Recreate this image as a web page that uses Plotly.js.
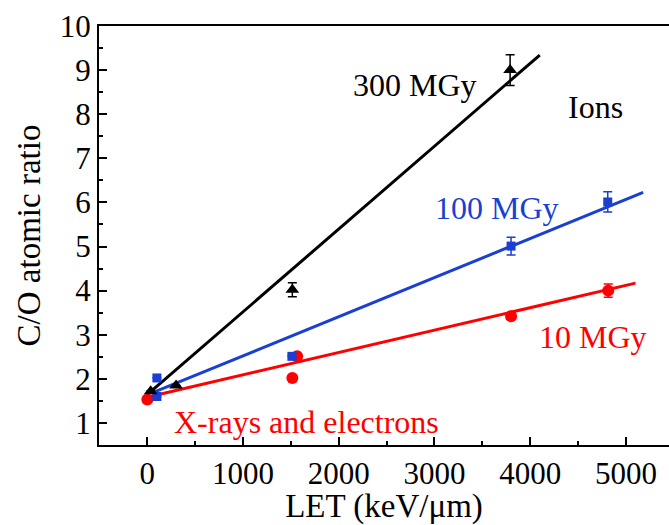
<!DOCTYPE html>
<html>
<head>
<meta charset="utf-8">
<script src="https://cdn.plot.ly/plotly-3.0.1.min.js"></script>
<style>html,body{margin:0;padding:0;background:#fff}#chart{width:669px;height:525px}</style>
</head>
<body>
<div id="chart"></div>
<script>
// Data
var let300 = [35, 300, 1515, 3790];
var co300 = [1.72, 1.85, 4.02, 9.0];
var err300 = [0, 0, 0.16, 0.35];

var let100 = [100, 100, 1510, 3800, 4810];
var co100 = [2.02, 1.6, 2.51, 5.01, 6.01];
var err100 = [0, 0, 0, 0.2, 0.23];

var let10 = [0, 1515, 1565, 3800, 4815];
var co10 = [1.53, 2.02, 2.51, 3.42, 4.0];
var err10 = [0, 0, 0, 0.07, 0.15];

// Linear fit lines (endpoints)
var fitX300 = [20, 4100];
var fitY300 = [1.68, 9.34];
var fitX100 = [50, 5180];
var fitY100 = [1.68, 6.23];
var fitX10 = [30, 5100];
var fitY10 = [1.6, 4.17];

var labels = ["300 MGy", "Ions", "100 MGy", "10 MGy", "X-rays and electrons"];
var xTicks = [0, 1000, 2000, 3000, 4000, 5000];
var yTicks = [1, 2, 3, 4, 5, 6, 7, 8, 9, 10];

var BLACK = '#000000', BLUE = '#1a3fd2', RED = '#ff0000';
var FONT = 'Liberation Serif';

function fit(x, y, c) {
  return {x: x, y: y, mode: 'lines', type: 'scatter', line: {color: c, width: 3}, hoverinfo: 'skip', showlegend: false};
}
function pts(x, y, e, c, sym, sz) {
  return {x: x, y: y, mode: 'markers', type: 'scatter', showlegend: false,
    marker: {color: c, symbol: sym, size: sz, line: {width: 0}},
    error_y: {type: 'data', array: e, visible: true, color: c, thickness: 1.5, width: 4.5}};
}

var data = [
  fit(fitX10, fitY10, RED),
  fit(fitX100, fitY100, BLUE),
  fit(fitX300, fitY300, BLACK),
  pts(let10, co10, err10, RED, 'circle', 12),
  pts(let100, co100, err100, BLUE, 'square', 9),
  pts(let300, co300, err300, BLACK, 'triangle-up', 12)
];

var layout = {
  width: 669, height: 525,
  margin: {l: 99, r: 0, t: 26, b: 80},
  paper_bgcolor: '#fff', plot_bgcolor: '#fff',
  font: {family: FONT, color: '#000', size: 30},
  showlegend: false,
  xaxis: {
    range: [-505, 5450], tickvals: xTicks, ticktext: xTicks.map(String),
    showgrid: false, zeroline: false, showline: true, linecolor: '#000', linewidth: 2,
    ticks: 'inside', ticklen: 8, tickwidth: 2, tickcolor: '#000',
    minor: {dtick: 500, tick0: 0, ticks: 'inside', ticklen: 4, tickwidth: 2, tickcolor: '#000'},
    tickfont: {family: FONT, size: 31, color: '#000'},
    title: {text: 'LET (keV/\u03bcm)', font: {family: FONT, size: 33, color: '#000'}, standoff: 5},
    automargin: false, mirror: true
  },
  yaxis: {
    range: [0.5, 10], tickvals: yTicks, ticktext: yTicks.map(String),
    showgrid: false, zeroline: false, showline: true, linecolor: '#000', linewidth: 2,
    ticks: 'inside', ticklen: 8, tickwidth: 2, tickcolor: '#000',
    minor: {dtick: 0.5, tick0: 0.5, ticks: 'inside', ticklen: 4, tickwidth: 2, tickcolor: '#000'},
    tickfont: {family: FONT, size: 31, color: '#000'},
    title: {text: 'C/O atomic ratio', font: {family: FONT, size: 33, color: '#000'}, standoff: 9},
    automargin: false
  },
  annotations: [
    {x: 2800, y: 8.66, xref: 'x', yref: 'y', text: labels[0], showarrow: false, font: {family: FONT, size: 32, color: BLACK}, xanchor: 'center', yanchor: 'middle'},
    {x: 4683, y: 8.17, xref: 'x', yref: 'y', text: labels[1], showarrow: false, font: {family: FONT, size: 32, color: BLACK}, xanchor: 'center', yanchor: 'middle'},
    {x: 3654, y: 5.88, xref: 'x', yref: 'y', text: labels[2], showarrow: false, font: {family: FONT, size: 32, color: BLUE}, xanchor: 'center', yanchor: 'middle'},
    {x: 4652, y: 2.95, xref: 'x', yref: 'y', text: labels[3], showarrow: false, font: {family: FONT, size: 32, color: RED}, xanchor: 'center', yanchor: 'middle'},
    {x: 1658, y: 1.03, xref: 'x', yref: 'y', text: labels[4], showarrow: false, font: {family: FONT, size: 32, color: RED}, xanchor: 'center', yanchor: 'middle'}
  ]
};

Plotly.newPlot('chart', data, layout, {displayModeBar: false, staticPlot: true});
</script>
</body>
</html>
